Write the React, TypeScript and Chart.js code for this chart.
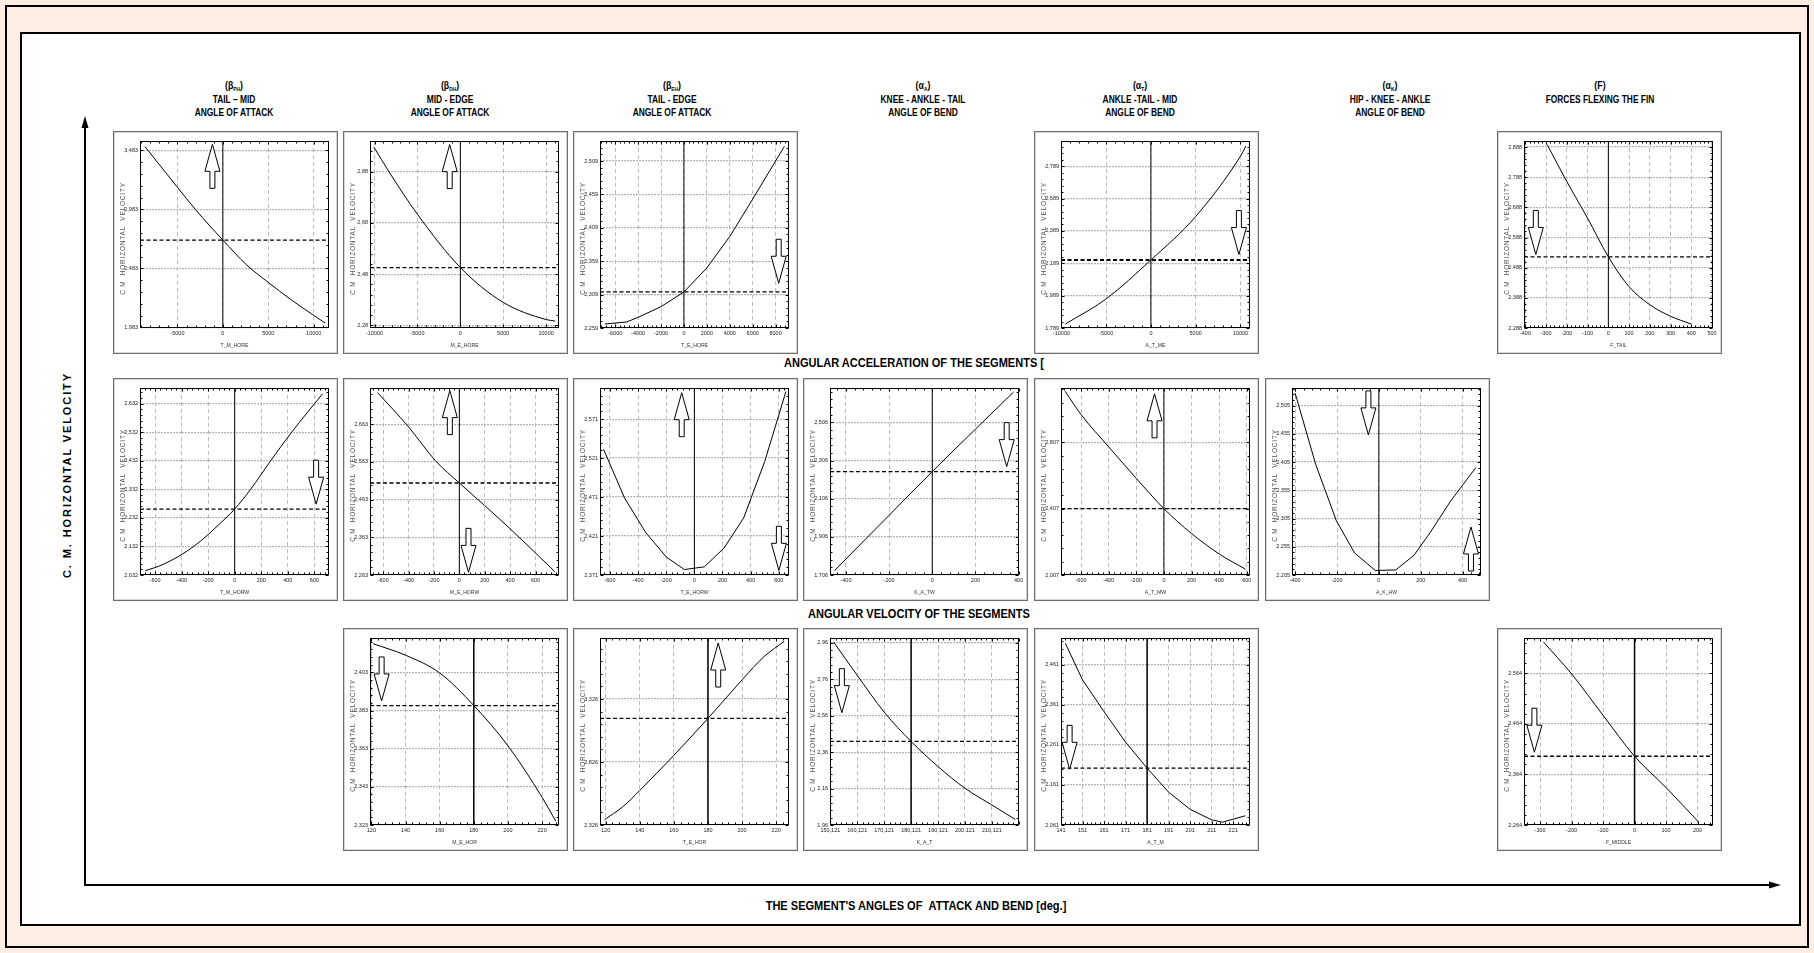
import React, { useEffect, useRef } from "react";
import { Chart, registerables } from "chart.js";
Chart.register(...registerables);

const NARROW = "'Liberation Sans Narrow', 'Arial Narrow', 'Liberation Sans', Arial, sans-serif";
const SANS = "'Liberation Sans', Arial, sans-serif";

type Arrow = { x: number; tip: number; dir: "up" | "down" };

// ================= ROW 1 =================
// T_M_HORE
const tmHoreX = [-8570, -5000, -3000, 0, 2650, 5000, 7500, 10000, 11260];
const tmHoreY = [3.514, 3.17, 2.98, 2.723, 2.51, 2.364, 2.218, 2.085, 2.02];
const tmHoreXTicks = [-5000, 0, 5000, 10000];
const tmHoreYTicks = [1.983, 2.483, 2.983, 3.483];
const tmHoreXRange = [-9120, 11680];
const tmHoreYRange = [1.978, 3.562];
const tmHoreRef = [0, 2.723];
const tmHoreArrows: Arrow[] = [{ x: -1150, tip: 3.534, dir: "up" }];

// M_E_HORE
const meHoreX = [-10090, -8320, -5000, 0, 5000, 10000, 11060];
const meHoreY = [2.977, 2.88, 2.714, 2.506, 2.37, 2.303, 2.297];
const meHoreXTicks = [-10000, -5000, 0, 5000, 10000];
const meHoreYTicks = [2.28, 2.48, 2.68, 2.88];
const meHoreXRange = [-10530, 11500];
const meHoreYRange = [2.27, 3.0];
const meHoreRef = [0, 2.506];
const meHoreArrows: Arrow[] = [{ x: -1240, tip: 2.986, dir: "up" }];

// T_E_HORE
const teHoreX = [-6900, -5000, -4000, -2000, 0, 2000, 4000, 6000, 8770];
const teHoreY = [2.265, 2.268, 2.275, 2.291, 2.313, 2.349, 2.396, 2.452, 2.531];
const teHoreXTicks = [-6000, -4000, -2000, 0, 2000, 4000, 6000, 8000];
const teHoreYTicks = [2.259, 2.309, 2.359, 2.409, 2.459, 2.509];
const teHoreXRange = [-7330, 9170];
const teHoreYRange = [2.259, 2.539];
const teHoreRef = [0, 2.313];
const teHoreArrows: Arrow[] = [{ x: 8270, tip: 2.326, dir: "down" }];

// A_T_ME
const atMeX = [-9550, -5000, 0, 5000, 10000, 10620];
const atMeY = [1.814, 1.969, 2.21, 2.478, 2.851, 2.914];
const atMeXTicks = [-10000, -5000, 0, 5000, 10000];
const atMeYTicks = [1.789, 1.989, 2.189, 2.389, 2.589, 2.789];
const atMeXRange = [-10050, 11070];
const atMeYRange = [1.789, 2.945];
const atMeRef = [0, 2.21];
const atMeArrows: Arrow[] = [{ x: 9830, tip: 2.243, dir: "down" }];

// F_TAIL
const fTailX = [-295, -200, -100, 0, 100, 200, 300, 400];
const fTailY = [2.896, 2.773, 2.652, 2.524, 2.425, 2.365, 2.327, 2.301];
const fTailXTicks = [-400, -300, -200, -100, 0, 100, 200, 300, 400, 500];
const fTailYTicks = [2.288, 2.388, 2.488, 2.588, 2.688, 2.788, 2.888];
const fTailXRange = [-407, 505];
const fTailYRange = [2.288, 2.908];
const fTailRef = [0, 2.524];
const fTailArrows: Arrow[] = [{ x: -350, tip: 2.532, dir: "down" }];

// ================= ROW 2 =================
// T_M_HORW
const tmHorwX = [-674, -540, -309, -66, 0, 120, 271, 429, 663];
const tmHorwY = [2.047, 2.069, 2.132, 2.232, 2.263, 2.332, 2.432, 2.532, 2.667];
const tmHorwXTicks = [-600, -400, -200, 0, 200, 400, 600];
const tmHorwYTicks = [2.032, 2.132, 2.232, 2.332, 2.432, 2.532, 2.632];
const tmHorwXRange = [-714, 711];
const tmHorwYRange = [2.032, 2.687];
const tmHorwRef = [0, 2.263];
const tmHorwArrows: Arrow[] = [{ x: 614, tip: 2.28, dir: "down" }];

// M_E_HORW
const meHorwX = [-645, -403, -188, 0, 200, 424, 752];
const meHorwY = [2.747, 2.657, 2.566, 2.507, 2.447, 2.378, 2.272];
const meHorwXTicks = [-600, -400, -200, 0, 200, 400, 600];
const meHorwYTicks = [2.263, 2.363, 2.463, 2.563, 2.663];
const meHorwXRange = [-704, 785];
const meHorwYRange = [2.263, 2.759];
const meHorwRef = [0, 2.507];
const meHorwArrows: Arrow[] = [
  { x: -75, tip: 2.752, dir: "up" },
  { x: 72, tip: 2.27, dir: "down" },
];

// T_E_HORW
const teHorwX = [-646, -497, -345, -199, -71, 71, 211, 350, 500, 651];
const teHorwY = [2.5325, 2.47, 2.4253, 2.394, 2.378, 2.3815, 2.4056, 2.444, 2.5165, 2.6065];
const teHorwXTicks = [-600, -400, -200, 0, 200, 400, 600];
const teHorwYTicks = [2.371, 2.421, 2.471, 2.521, 2.571];
const teHorwXRange = [-671, 673];
const teHorwYRange = [2.371, 2.611];
const teHorwRef = [0, null];
const teHorwArrows: Arrow[] = [
  { x: -90, tip: 2.605, dir: "up" },
  { x: 601, tip: 2.377, dir: "down" },
];

// K_A_TW
const kaTwX = [-453, -200, 0, 200, 377];
const kaTwY = [1.729, 2.019, 2.248, 2.47, 2.665];
const kaTwXTicks = [-400, -200, 0, 200, 400];
const kaTwYTicks = [1.706, 1.906, 2.106, 2.306, 2.506];
const kaTwXRange = [-474, 402];
const kaTwYRange = [1.706, 2.686];
const kaTwRef = [0, 2.248];
const kaTwArrows: Arrow[] = [{ x: 345, tip: 2.274, dir: "down" }];

// A_T_MW
const atMwX = [-715, -600, -400, -200, 0, 200, 400, 590];
const atMwY = [3.115, 2.975, 2.78, 2.59, 2.407, 2.257, 2.134, 2.042];
const atMwXTicks = [-600, -400, -200, 0, 200, 400, 600];
const atMwYTicks = [2.007, 2.407, 2.807];
const atMwXRange = [-745, 623];
const atMwYRange = [2.007, 3.135];
const atMwRef = [0, 2.407];
const atMwArrows: Arrow[] = [{ x: -68, tip: 3.1, dir: "up" }];

// A_K_HW
const akHwX = [-400, -302, -203, -116, -17, 81, 168, 245, 343, 463];
const akHwY = [2.527, 2.401, 2.301, 2.244, 2.213, 2.214, 2.24, 2.28, 2.336, 2.395];
const akHwXTicks = [-400, -200, 0, 200, 400];
const akHwYTicks = [2.205, 2.255, 2.305, 2.355, 2.405, 2.455, 2.505];
const akHwXRange = [-415, 488];
const akHwYRange = [2.205, 2.536];
const akHwRef = [0, null];
const akHwArrows: Arrow[] = [
  { x: -50, tip: 2.453, dir: "down" },
  { x: 440, tip: 2.29, dir: "up" },
];

// ================= ROW 3 =================
// M_E_HOR
const meHorX = [121, 140, 160, 180, 200, 220, 228];
const meHorY = [2.418, 2.412, 2.4027, 2.3856, 2.3645, 2.3375, 2.325];
const meHorXTicks = [120, 140, 160, 180, 200, 220];
const meHorYTicks = [2.323, 2.343, 2.363, 2.383, 2.403];
const meHorXRange = [119.2, 229.9];
const meHorYRange = [2.323, 2.421];
const meHorRef = [180, 2.3856];
const meHorArrows: Arrow[] = [{ x: 126, tip: 2.388, dir: "down" }];

// T_E_HOR
const teHorX = [119.4, 130, 140, 160, 180, 200, 213, 224.7];
const teHorY = [2.369, 2.47, 2.6, 2.879, 3.172, 3.478, 3.664, 3.783];
const teHorXTicks = [120, 140, 160, 180, 200, 220];
const teHorYTicks = [2.326, 2.826, 3.326];
const teHorXRange = [116.7, 227.5];
const teHorYRange = [2.326, 3.81];
const teHorRef = [180, 3.172];
const teHorArrows: Arrow[] = [{ x: 186, tip: 3.77, dir: "up" }];

// K_A_T
const kaTX = [151.3, 160.121, 170.121, 180.121, 190.121, 200.121, 210.121, 218.8];
const kaTY = [2.966, 2.782, 2.58, 2.419, 2.281, 2.162, 2.07, 1.991];
const kaTXTicks = [150.121, 160.121, 170.121, 180.121, 190.121, 200.121, 210.121];
const kaTYTicks = [1.96, 2.16, 2.36, 2.56, 2.76, 2.96];
const kaTXRange = [150.0, 220.2];
const kaTYRange = [1.96, 2.987];
const kaTRef = [180.121, 2.419];
const kaTArrows: Arrow[] = [{ x: 154.4, tip: 2.577, dir: "down" }];

// A_T_M
const atMX = [143, 151, 161, 171, 181, 191, 201, 211, 216, 226.6];
const atMY = [2.515, 2.4235, 2.344, 2.268, 2.203, 2.143, 2.1, 2.074, 2.068, 2.084];
const atMXTicks = [141, 151, 161, 171, 181, 191, 201, 211, 221];
const atMYTicks = [2.061, 2.161, 2.261, 2.361, 2.461];
const atMXRange = [141, 228.8];
const atMYRange = [2.061, 2.528];
const atMRef = [181, 2.203];
const atMArrows: Arrow[] = [{ x: 145, tip: 2.2, dir: "down" }];

// F_MIDDLE
const fMidX = [-289, -200, -100, 0, 100, 203];
const fMidY = [2.626, 2.563, 2.481, 2.4, 2.338, 2.27];
const fMidXTicks = [-300, -200, -100, 0, 100, 200];
const fMidYTicks = [2.264, 2.364, 2.464, 2.564];
const fMidXRange = [-351, 249];
const fMidYRange = [2.264, 2.634];
const fMidRef = [0, 2.4];
const fMidArrows: Arrow[] = [{ x: -318, tip: 2.408, dir: "down" }];

// ================= HEADERS =================
const headerSymbol = ["β", "β", "β", "α", "α", "α", "F"];
const headerSub = ["PH", "DH", "EH", "A", "T", "K", ""];
const headerLine2 = ["TAIL – MID", "MID - EDGE", "TAIL - EDGE", "KNEE - ANKLE - TAIL", "ANKLE -TAIL - MID", "HIP - KNEE - ANKLE", "FORCES FLEXING THE FIN"];
const headerLine3 = ["ANGLE OF ATTACK", "ANGLE OF ATTACK", "ANGLE OF ATTACK", "ANGLE OF BEND", "ANGLE OF BEND", "ANGLE OF BEND", ""];

const Y_TITLE_PANEL = "C M  HORIZONTAL  VELOCITY";

type PanelDef = {
  row: number; col: number; xTitle: string;
  xs: number[]; ys: number[];
  xRange: number[]; yRange: number[];
  xTicks: number[]; yTicks: number[];
  xDec: number; yDec: number;
  refs: (number | null)[];
  arrows: Arrow[];
  smooth: boolean;
  refWidth?: number;
};

const panels: PanelDef[] = [
  { row: 0, col: 0, xTitle: "T_M_HORE", xs: tmHoreX, ys: tmHoreY, xRange: tmHoreXRange, yRange: tmHoreYRange, xTicks: tmHoreXTicks, yTicks: tmHoreYTicks, xDec: 0, yDec: 3, refs: tmHoreRef, arrows: tmHoreArrows, smooth: true },
  { row: 0, col: 1, xTitle: "M_E_HORE", xs: meHoreX, ys: meHoreY, xRange: meHoreXRange, yRange: meHoreYRange, xTicks: meHoreXTicks, yTicks: meHoreYTicks, xDec: 0, yDec: 2, refs: meHoreRef, arrows: meHoreArrows, smooth: true },
  { row: 0, col: 2, xTitle: "T_E_HORE", xs: teHoreX, ys: teHoreY, xRange: teHoreXRange, yRange: teHoreYRange, xTicks: teHoreXTicks, yTicks: teHoreYTicks, xDec: 0, yDec: 3, refs: teHoreRef, arrows: teHoreArrows, smooth: false },
  { row: 0, col: 4, xTitle: "A_T_ME", xs: atMeX, ys: atMeY, xRange: atMeXRange, yRange: atMeYRange, xTicks: atMeXTicks, yTicks: atMeYTicks, xDec: 0, yDec: 3, refs: atMeRef, arrows: atMeArrows, smooth: true, refWidth: 2 },
  { row: 0, col: 6, xTitle: "F_TAIL", xs: fTailX, ys: fTailY, xRange: fTailXRange, yRange: fTailYRange, xTicks: fTailXTicks, yTicks: fTailYTicks, xDec: 0, yDec: 3, refs: fTailRef, arrows: fTailArrows, smooth: true },
  { row: 1, col: 0, xTitle: "T_M_HORW", xs: tmHorwX, ys: tmHorwY, xRange: tmHorwXRange, yRange: tmHorwYRange, xTicks: tmHorwXTicks, yTicks: tmHorwYTicks, xDec: 0, yDec: 3, refs: tmHorwRef, arrows: tmHorwArrows, smooth: true },
  { row: 1, col: 1, xTitle: "M_E_HORW", xs: meHorwX, ys: meHorwY, xRange: meHorwXRange, yRange: meHorwYRange, xTicks: meHorwXTicks, yTicks: meHorwYTicks, xDec: 0, yDec: 3, refs: meHorwRef, arrows: meHorwArrows, smooth: true },
  { row: 1, col: 2, xTitle: "T_E_HORW", xs: teHorwX, ys: teHorwY, xRange: teHorwXRange, yRange: teHorwYRange, xTicks: teHorwXTicks, yTicks: teHorwYTicks, xDec: 0, yDec: 3, refs: teHorwRef, arrows: teHorwArrows, smooth: false },
  { row: 1, col: 3, xTitle: "K_A_TW", xs: kaTwX, ys: kaTwY, xRange: kaTwXRange, yRange: kaTwYRange, xTicks: kaTwXTicks, yTicks: kaTwYTicks, xDec: 0, yDec: 3, refs: kaTwRef, arrows: kaTwArrows, smooth: true },
  { row: 1, col: 4, xTitle: "A_T_MW", xs: atMwX, ys: atMwY, xRange: atMwXRange, yRange: atMwYRange, xTicks: atMwXTicks, yTicks: atMwYTicks, xDec: 0, yDec: 3, refs: atMwRef, arrows: atMwArrows, smooth: true },
  { row: 1, col: 5, xTitle: "A_K_HW", xs: akHwX, ys: akHwY, xRange: akHwXRange, yRange: akHwYRange, xTicks: akHwXTicks, yTicks: akHwYTicks, xDec: 0, yDec: 3, refs: akHwRef, arrows: akHwArrows, smooth: false },
  { row: 2, col: 1, xTitle: "M_E_HOR", xs: meHorX, ys: meHorY, xRange: meHorXRange, yRange: meHorYRange, xTicks: meHorXTicks, yTicks: meHorYTicks, xDec: 0, yDec: 3, refs: meHorRef, arrows: meHorArrows, smooth: true },
  { row: 2, col: 2, xTitle: "T_E_HOR", xs: teHorX, ys: teHorY, xRange: teHorXRange, yRange: teHorYRange, xTicks: teHorXTicks, yTicks: teHorYTicks, xDec: 0, yDec: 3, refs: teHorRef, arrows: teHorArrows, smooth: true },
  { row: 2, col: 3, xTitle: "K_A_T", xs: kaTX, ys: kaTY, xRange: kaTXRange, yRange: kaTYRange, xTicks: kaTXTicks, yTicks: kaTYTicks, xDec: 3, yDec: 2, refs: kaTRef, arrows: kaTArrows, smooth: true },
  { row: 2, col: 4, xTitle: "A_T_M", xs: atMX, ys: atMY, xRange: atMXRange, yRange: atMYRange, xTicks: atMXTicks, yTicks: atMYTicks, xDec: 0, yDec: 3, refs: atMRef, arrows: atMArrows, smooth: false },
  { row: 2, col: 6, xTitle: "F_MIDDLE", xs: fMidX, ys: fMidY, xRange: fMidXRange, yRange: fMidYRange, xTicks: fMidXTicks, yTicks: fMidYTicks, xDec: 0, yDec: 3, refs: fMidRef, arrows: fMidArrows, smooth: true },
];

// ================= LAYOUT =================
const COL_X = [113, 343, 573, 803, 1034, 1265, 1497];
const ROW_Y = [131, 378, 628];
const PANEL_W = 225;
const PANEL_H = 223;
const HEADER_CX = [234, 450, 672, 923, 1140, 1390, 1600];

const fmt = (v: number, dec: number) => v.toFixed(dec).replace(".", ",");

function makeDeco(def: PanelDef) {
  return {
    id: "deco",
    afterDraw(chart: any) {
      const ctx: CanvasRenderingContext2D = chart.ctx;
      const a = chart.chartArea;
      const sx = chart.scales.x;
      const sy = chart.scales.y;
      const L = Math.round(a.left) + 0.5;
      const T = Math.round(a.top) + 0.5;
      const R = Math.round(a.right) - 0.5;
      const B = Math.round(a.bottom) - 0.5;
      ctx.save();
      ctx.strokeStyle = "#000";
      ctx.lineWidth = 1;
      ctx.setLineDash([]);
      const minorVals = (ticks: number[], n: number, lo: number, hi: number) => {
        const out: { v: number; major: boolean }[] = [];
        const step = (ticks[1] - ticks[0]) / n;
        let v = ticks[0];
        let k = 0;
        while (v - step >= lo - 1e-9) { v -= step; k--; }
        for (; v <= hi + 1e-9; v += step, k++) out.push({ v, major: ((k % n) + n) % n === 0 });
        return out;
      };
      ctx.beginPath();
      for (const m of minorVals(def.xTicks, 5, def.xRange[0], def.xRange[1])) {
        const px = Math.round(sx.getPixelForValue(m.v)) + 0.5;
        const len = m.major ? 3 : 2;
        ctx.moveTo(px, T); ctx.lineTo(px, T + len);
        ctx.moveTo(px, B); ctx.lineTo(px, B - len);
      }
      for (const m of minorVals(def.yTicks, 5, def.yRange[0], def.yRange[1])) {
        const py = Math.round(sy.getPixelForValue(m.v)) + 0.5;
        const len = m.major ? 3 : 2;
        ctx.moveTo(L, py); ctx.lineTo(L + len, py);
        ctx.moveTo(R, py); ctx.lineTo(R - len, py);
      }
      ctx.stroke();
      ctx.strokeRect(L, T, R - L, B - T);

      for (const ar of def.arrows) {
        const x = sx.getPixelForValue(ar.x);
        const tip = sy.getPixelForValue(ar.tip);
        const s = ar.dir === "up" ? 1 : -1;
        const HL = 27, LEN = 44, HW = 7.5, SW = 2.5;
        const base = tip + s * HL;
        const tail = tip + s * LEN;
        ctx.beginPath();
        ctx.moveTo(x, tip);
        ctx.lineTo(x + HW, base);
        ctx.lineTo(x + SW, base);
        ctx.lineTo(x + SW, tail);
        ctx.lineTo(x - SW, tail);
        ctx.lineTo(x - SW, base);
        ctx.lineTo(x - HW, base);
        ctx.closePath();
        ctx.fillStyle = "#fff";
        ctx.fill();
        ctx.lineWidth = 1;
        ctx.strokeStyle = "#000";
        ctx.stroke();
      }

      ctx.save();
      ctx.translate(9, (a.top + a.bottom) / 2 + 4);
      ctx.rotate(-Math.PI / 2);
      ctx.font = `6.5px ${SANS}`;
      (ctx as any).letterSpacing = "0.8px";
      ctx.fillStyle = "#555";
      ctx.textAlign = "center";
      ctx.textBaseline = "middle";
      ctx.fillText(Y_TITLE_PANEL, 0, 0);
      ctx.restore();

      ctx.save();
      ctx.translate((a.left + a.right) / 2, chart.height - 8);
      ctx.scale(0.85, 1);
      ctx.font = `6px ${NARROW}`;
      ctx.fillStyle = "#333";
      ctx.textAlign = "center";
      ctx.textBaseline = "middle";
      ctx.fillText(def.xTitle, 0, 0);
      ctx.restore();
      ctx.restore();
    },
  };
}

function Panel({ def }: { def: PanelDef }) {
  const ref = useRef<HTMLCanvasElement>(null);
  useEffect(() => {
    const canvas = ref.current;
    if (!canvas) return;
    const curve = def.xs.map((x, i) => ({ x, y: def.ys[i] }));
    const datasets: any[] = [
      {
        data: curve,
        showLine: true,
        borderColor: "#000",
        borderWidth: 1,
        pointRadius: 0,
        tension: 0,
        cubicInterpolationMode: def.smooth ? "monotone" : "default",
      },
    ];
    if (def.refs[1] !== null) {
      datasets.push({
        data: [
          { x: def.xRange[0], y: def.refs[1] },
          { x: def.xRange[1], y: def.refs[1] },
        ],
        showLine: true,
        borderColor: "#000",
        borderWidth: def.refWidth ?? 1.3,
        borderDash: [4, 2.5],
        pointRadius: 0,
      });
    }
    datasets.push({
      data: [
        { x: def.refs[0], y: def.yRange[0] },
        { x: def.refs[0], y: def.yRange[1] },
      ],
      showLine: true,
      borderColor: "#000",
      borderWidth: def.row === 2 ? 1.5 : 1,
      pointRadius: 0,
    });
    const tickFont = { family: NARROW, size: 5.5 };
    const chart = new Chart(canvas, {
      type: "scatter",
      data: { datasets },
      plugins: [makeDeco(def) as any],
      options: {
        animation: false,
        responsive: false,
        maintainAspectRatio: false,
        devicePixelRatio: 1,
        events: [],
        layout: { padding: { top: 9, right: 8, left: 0, bottom: 0 } },
        plugins: { legend: { display: false }, tooltip: { enabled: false }, title: { display: false } },
        scales: {
          x: {
            type: "linear",
            min: def.xRange[0],
            max: def.xRange[1],
            afterBuildTicks: (s: any) => {
              s.ticks = def.xTicks.map((v) => ({ value: v }));
            },
            afterFit: (s: any) => {
              s.height = 25;
              s.paddingLeft = 0;
              s.paddingRight = 0;
            },
            ticks: {
              autoSkip: false,
              maxRotation: 0,
              minRotation: 0,
              padding: 2,
              font: tickFont,
              color: "#222",
              callback: (v: any) => fmt(Number(v), def.xDec),
            },
            grid: { color: "#bdbdbd", lineWidth: 1, drawTicks: false },
            border: { display: false, dash: [4, 3] },
          },
          y: {
            type: "linear",
            min: def.yRange[0],
            max: def.yRange[1],
            afterBuildTicks: (s: any) => {
              s.ticks = def.yTicks.map((v) => ({ value: v }));
            },
            afterFit: (s: any) => {
              s.width = 26;
              s.paddingTop = 0;
              s.paddingBottom = 0;
            },
            ticks: {
              autoSkip: false,
              padding: 2,
              font: tickFont,
              color: "#222",
              callback: (v: any) => fmt(Number(v), def.yDec),
            },
            grid: { color: "#b5b5b5", lineWidth: 1.3, drawTicks: false },
            border: { display: false, dash: [2, 1] },
          },
        },
      } as any,
    });
    return () => chart.destroy();
  }, [def]);
  return (
    <div
      style={{
        position: "absolute",
        left: COL_X[def.col],
        top: ROW_Y[def.row],
        width: PANEL_W,
        height: PANEL_H,
        boxSizing: "border-box",
        border: "1px solid #6e6e6e",
        background: "#fff",
        boxShadow: "inset 0 0 0 1px #d6d6d6",
      }}
    >
      <canvas ref={ref} width={PANEL_W - 2} height={PANEL_H - 2} style={{ display: "block", width: PANEL_W - 2, height: PANEL_H - 2 }} />
    </div>
  );
}

const boldText: React.CSSProperties = {
  position: "absolute",
  fontFamily: SANS,
  fontWeight: "bold",
  color: "#000",
  whiteSpace: "nowrap",
  textAlign: "center",
  lineHeight: "14px",
};

export default function App() {
  return (
    <div style={{ position: "absolute", left: 0, top: 0, width: 1814, height: 953, background: "#fdede3", overflow: "hidden" }}>
      <svg width={1814} height={953} style={{ position: "absolute", left: 0, top: 0 }}>
        <rect x={6} y={6} width={1802} height={941} fill="none" stroke="#000" strokeWidth={2} />
        <rect x={21} y={33} width={1779} height={892} fill="#fff" stroke="#000" strokeWidth={2} />
        <line x1={85} y1={126} x2={85} y2={885} stroke="#000" strokeWidth={2} />
        <polygon points="85,116 81.5,128 88.5,128" fill="#000" />
        <line x1={84} y1={885} x2={1770} y2={885} stroke="#000" strokeWidth={2} />
        <polygon points="1781,885 1769,881.5 1769,888.5" fill="#000" />
      </svg>

      {HEADER_CX.map((cx, i) => (
        <div key={"h" + i}>
          <div style={{ ...boldText, left: cx - 120, width: 240, top: 78, fontSize: 11, transform: "scaleX(0.8)" }}>
            ({headerSymbol[i]}
            {headerSub[i] ? <span style={{ fontSize: 6, position: "relative", top: 2 }}>{headerSub[i]}</span> : null})
          </div>
          <div style={{ ...boldText, left: cx - 120, width: 240, top: 92, fontSize: 10.5, transform: "scaleX(0.8)" }}>{headerLine2[i]}</div>
          <div style={{ ...boldText, left: cx - 120, width: 240, top: 105, fontSize: 10.5, transform: "scaleX(0.8)" }}>{headerLine3[i]}</div>
        </div>
      ))}

      <div style={{ ...boldText, left: 914 - 200, width: 400, top: 356, fontSize: 12, transform: "scaleX(0.92)" }}>ANGULAR ACCELERATION OF THE SEGMENTS [</div>
      <div style={{ ...boldText, left: 919 - 200, width: 400, top: 607, fontSize: 12, transform: "scaleX(0.92)" }}>ANGULAR VELOCITY OF THE SEGMENTS</div>
      <div style={{ ...boldText, left: 916 - 250, width: 500, top: 899, fontSize: 12, transform: "scaleX(0.92)" }}>THE SEGMENT'S ANGLES OF &nbsp;ATTACK AND BEND [deg.]</div>
      <div
        style={{
          ...boldText,
          left: 67 - 150,
          width: 300,
          top: 475 - 7,
          fontSize: 11,
          letterSpacing: "1.9px",
          transform: "rotate(-90deg)",
        }}
      >
        C. M. HORIZONTAL VELOCITY
      </div>

      {panels.map((p, i) => (
        <Panel key={i} def={p} />
      ))}
    </div>
  );
}
